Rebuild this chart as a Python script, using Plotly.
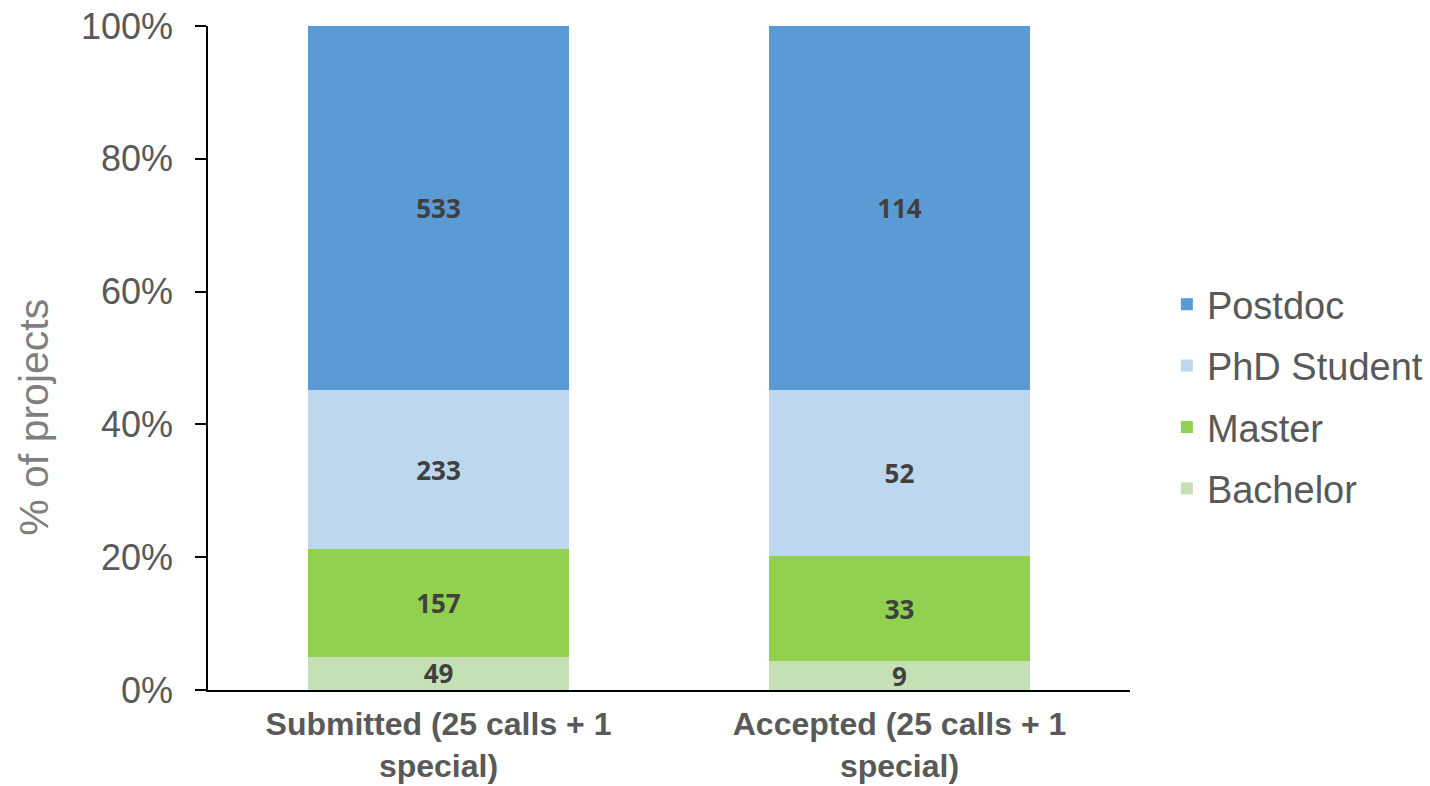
import plotly.graph_objects as go

categories = ["Submitted (25 calls + 1<br>special)", "Accepted (25 calls + 1<br>special)"]
series_names = ["Bachelor", "Master", "PhD Student", "Postdoc"]
bachelor = [49, 9]
master = [157, 33]
phd = [233, 52]
postdoc = [533, 114]
colors = ["#C5E0B4", "#92D050", "#BDD7EE", "#5B9BD5"]
legend_ranks = [4, 3, 2, 1]
y_ticks = [0, 20, 40, 60, 80, 100]
y_tick_labels = ["0%", "20%", "40%", "60%", "80%", "100%"]
y_title = "% of projects"

fig = go.Figure()
for name, vals, col, rk in zip(series_names, [bachelor, master, phd, postdoc], colors, legend_ranks):
    fig.add_trace(go.Bar(
        x=categories, y=vals, name=name, marker=dict(color=col, line=dict(width=0)),
        text=vals, texttemplate="%{text}", textposition="inside",
        insidetextanchor="middle", textangle=0, constraintext="none",
        textfont=dict(family="Open Sans", size=26, color="#404040", weight="bold"),
        legendgroup=name, legendrank=rk, hoverinfo="skip",
    ))

fig.update_layout(
    barmode="stack", barnorm="percent", bargap=0.434,
    width=1430, height=786,
    margin=dict(l=208, r=300, t=26, b=96, autoexpand=False),
    paper_bgcolor="white", plot_bgcolor="white",
    font=dict(family="Liberation Sans, Arial", color="#595959"),
    legend=dict(
        x=1.040, y=0.628, xanchor="left", yanchor="top",
        traceorder="grouped", tracegroupgap=9,
        font=dict(size=38, color="#595959"), itemwidth=30,
    ),
    showlegend=True,
    annotations=[dict(
        text=y_title, xref="paper", yref="paper", x=-0.1887, y=0.41,
        xanchor="center", yanchor="middle", textangle=-90, showarrow=False,
        font=dict(size=41, color="#7F7F7F"),
    )],
)
fig.update_yaxes(
    range=[0, 100.001], tickvals=y_ticks, ticktext=y_tick_labels,
    showgrid=False, zeroline=False, automargin=False,
    showline=True, linecolor="black", linewidth=1.5,
    ticks="outside", ticklen=11, tickcolor="black", tickwidth=1.5,
    ticklabelstandoff=15,
    tickfont=dict(size=36, color="#595959"),
)
fig.update_xaxes(
    showline=True, linecolor="black", linewidth=1.5, ticks="", automargin=False,
    ticklabelstandoff=5,
    tickfont=dict(size=32, color="#595959", weight="bold"),
    showgrid=False,
)

fig.write_html("out.html", config={"displayModeBar": False},
               post_script="document.body.style.margin='0';")
